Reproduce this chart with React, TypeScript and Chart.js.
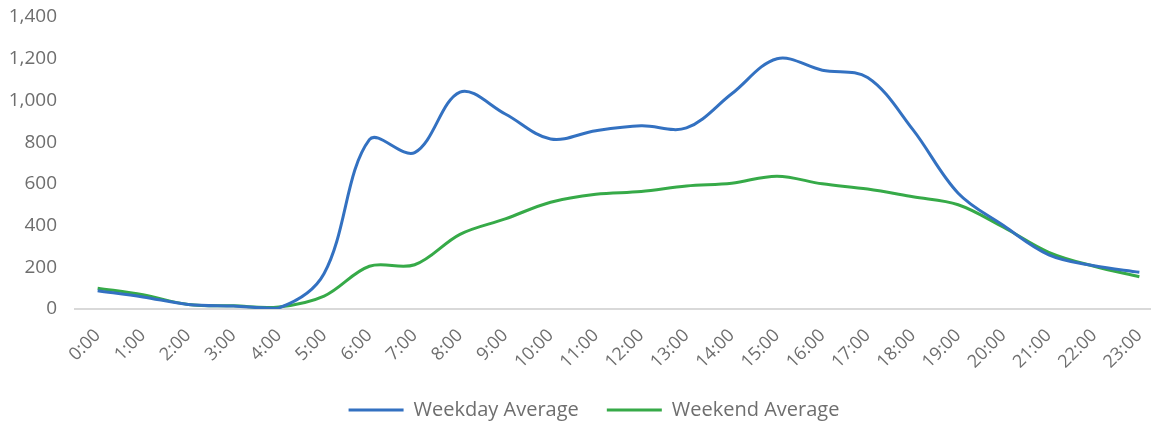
import React, { useEffect, useRef } from "react";
import { Chart, registerables } from "chart.js";

Chart.register(...registerables);

const hours = [
  "0:00", "1:00", "2:00", "3:00", "4:00", "5:00", "6:00", "7:00", "8:00", "9:00", "10:00", "11:00",
  "12:00", "13:00", "14:00", "15:00", "16:00", "17:00", "18:00", "19:00", "20:00", "21:00", "22:00", "23:00",
];

const weekdayAverage = [
  88, 58, 22, 14, 5, 170, 812, 750, 1040, 935, 815, 855, 878, 868, 1032, 1200, 1145, 1110, 860, 555, 400, 260, 207, 176,
];

const weekendAverage = [
  100, 68, 22, 15, 10, 62, 205, 212, 358, 432, 512, 550, 563, 590, 603, 637, 600, 575, 538, 500, 392, 272, 205, 155,
];

const yTicksMax = 1400;
const yTickStep = 200;

const FONT = "'Open Sans', 'DejaVu Sans', sans-serif";
const TEXT = "#6e6e6e";

const legendShift = {
  id: "legendShift",
  afterLayout(chart: any) {
    if (chart.legend) chart.legend.left += 17;
  },
};

export default function App() {
  const ref = useRef<HTMLCanvasElement | null>(null);

  useEffect(() => {
    if (!ref.current) return;
    const chart = new Chart(ref.current, {
      type: "line",
      data: {
        labels: hours,
        datasets: [
          {
            label: "Weekday Average",
            data: weekdayAverage,
            borderColor: "#3371c1",
            backgroundColor: "#3371c1",
            borderWidth: 3,
            pointRadius: 0,
            tension: 0.35,
          },
          {
            label: "Weekend Average",
            data: weekendAverage,
            borderColor: "#36aa48",
            backgroundColor: "#36aa48",
            borderWidth: 3,
            pointRadius: 0,
            tension: 0.35,
          },
        ],
      },
      plugins: [legendShift],
      options: {
        animation: false,
        responsive: false,
        maintainAspectRatio: false,
        layout: { padding: { left: 9, right: 0, top: 17, bottom: 0 }, autoPadding: false },
        plugins: {
          tooltip: { enabled: false },
          legend: {
            position: "bottom",
            labels: {
              usePointStyle: true,
              pointStyle: "line",
              pointStyleWidth: 55,
              boxWidth: 55,
              color: TEXT,
              padding: 28,
              font: { family: FONT, size: 20 },
            },
          },
        },
        scales: {
          x: {
            offset: true,
            grid: { display: false, drawTicks: false },
            border: { display: true, color: "#d9d9d9", width: 2 },
            ticks: {
              color: TEXT,
              font: { family: FONT, size: 18 },
              minRotation: 45,
              maxRotation: 45,
              padding: 16,
              autoSkip: false,
            },
            afterFit: (scale: any) => {
              scale.paddingLeft = 0;
              scale.paddingRight = 0;
              scale.height = 63;
            },
          },
          y: {
            min: 0,
            max: yTicksMax,
            grid: { display: false, drawTicks: false },
            border: { display: false },
            ticks: {
              stepSize: yTickStep,
              color: TEXT,
              font: { family: FONT, size: 19 },
              padding: 18,
            },
            afterFit: (scale: any) => {
              scale.paddingTop = 0;
              scale.paddingBottom = 0;
              scale.width = 66;
            },
          },
        },
      },
    });
    return () => chart.destroy();
  }, []);

  return (
    <div style={{ position: "fixed", left: 0, top: 0, width: 1151, height: 422, overflow: "hidden", background: "#fff" }}>
      <canvas ref={ref} width={1162} height={430} style={{ display: "block" }} />
    </div>
  );
}
